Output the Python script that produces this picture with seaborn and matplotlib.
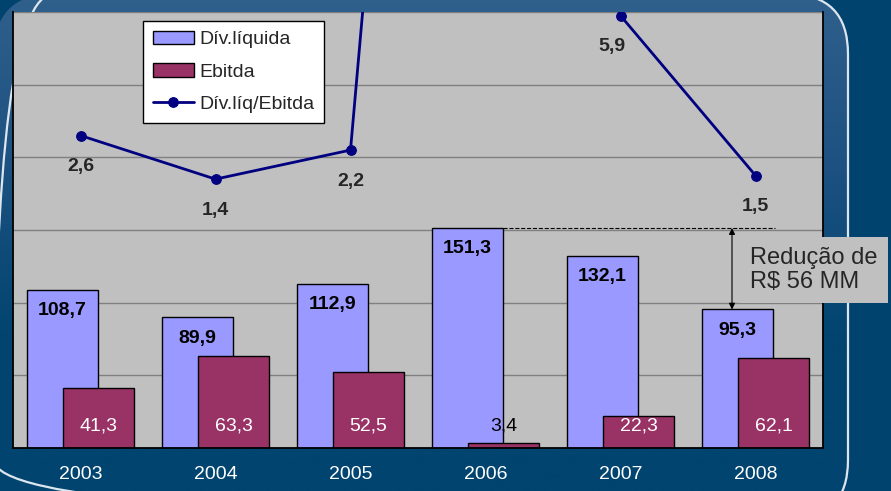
import numpy as np
import pandas as pd
import matplotlib
matplotlib.use('Agg')
import matplotlib.pyplot as plt
from matplotlib.patches import FancyBboxPatch
from matplotlib.colors import LinearSegmentedColormap
from matplotlib.ticker import MultipleLocator
import seaborn as sns

# dados (R$ milhões)
anos = ['2003', '2004', '2005', '2006', '2007', '2008']
div_liquida = [108.7, 89.9, 112.9, 151.3, 132.1, 95.3]
ebitda = [41.3, 63.3, 52.5, 3.4, 22.3, 62.1]
div_ebitda = [2.6, 1.4, 2.2, 44.5, 5.9, 1.5]

serie_nomes = ['Dív.líquida', 'Ebitda', 'Dív.líq/Ebitda']
cores = ['#9999FF', '#993366', '#000080']


def fmt_br(v):
    return f'{v:.1f}'.replace('.', ',')


sns.set_style('white')
plt.rcParams['font.family'] = ['Liberation Sans', 'DejaVu Sans']

fig = plt.figure(figsize=(8.91, 4.91), dpi=100)
fig.patch.set_facecolor('#00436E')

# fundo com moldura arredondada e degradê
bg = fig.add_axes([0, 0, 1, 1], zorder=-1)
bg.axis('off')
grad = np.linspace(0, 1, 256).reshape(-1, 1)
cmap = LinearSegmentedColormap.from_list(
    'fundo', ['#30608C', '#1C5181', '#00446F', '#00446F'])
im = bg.imshow(grad, cmap=cmap, extent=[-6, 848, 520, -6], aspect='auto')
frame = FancyBboxPatch((-6, -6), 854, 526,
                       boxstyle='round,pad=0,rounding_size=60',
                       facecolor='none', edgecolor='#DDE6EE', lw=1.6)
bg.add_patch(frame)
im.set_clip_path(frame)
bg.set_xlim(0, 891)
bg.set_ylim(491, 0)

# barras
ax = fig.add_axes([13 / 891, 43 / 491, 810 / 891, 436 / 491])
df = pd.DataFrame({
    'ano': anos * 2,
    'valor': div_liquida + ebitda,
    'serie': [serie_nomes[0]] * len(anos) + [serie_nomes[1]] * len(anos),
})
sns.barplot(data=df, x='ano', y='valor', hue='serie', hue_order=serie_nomes[:2],
            palette=cores[:2], saturation=1, errorbar=None, width=0.8,
            dodge=True, edgecolor='black', linewidth=1, legend=False, ax=ax)

# barras sobrepostas como no original
largura = 0.52
desloc = 0.133
for k, cont in enumerate(ax.containers):
    off = -desloc if k == 0 else desloc
    for p in cont.patches:
        i = round(p.get_x() + p.get_width() / 2)
        p.set_width(largura)
        p.set_x(i + off - largura / 2)

for i, v in enumerate(div_liquida):
    ax.annotate(fmt_br(v), (i - desloc, v), xytext=(0, -15),
                textcoords='offset points', ha='center', va='center',
                fontsize=14, fontweight='bold', color='black', zorder=5)
for i, v in enumerate(ebitda):
    ax.text(i + desloc, 15, fmt_br(v), ha='center', va='center', fontsize=14,
            color='white' if v > 10 else 'black', zorder=5)

ax.set_facecolor('#C0C0C0')
ax.set_ylim(0, 300)
ax.yaxis.set_major_locator(MultipleLocator(50))
ax.grid(axis='y', color='#808080', lw=1)
ax.set_axisbelow(True)
ax.tick_params(axis='y', length=0, labelleft=False)
ax.set_xlabel('')
ax.set_ylabel('')
for s in ['top', 'right']:
    ax.spines[s].set_visible(False)
for s in ['left', 'bottom']:
    ax.spines[s].set_color('black')
    ax.spines[s].set_linewidth(1.3)

# linha Dív.líq/Ebitda no eixo secundário
ax2 = ax.twinx()
sns.lineplot(x=np.arange(len(anos)), y=div_ebitda, ax=ax2, color=cores[2],
             lw=2.0, marker='o', markersize=7, markeredgecolor=cores[2])
ax2.set_ylim(-6, 6)
ax2.set_yticks([])
for s in ['top', 'left', 'bottom']:
    ax2.spines[s].set_visible(False)
ax2.spines['right'].set_color('black')
ax2.spines['right'].set_linewidth(1.3)
for i, v in enumerate(div_ebitda):
    dx = -6 if i == 4 else 0
    ax2.annotate(fmt_br(v), (i, v), xytext=(dx, -22.5), textcoords='offset points',
                 ha='center', va='center', fontsize=14, fontweight='bold')

ax.set_xlim(-0.5, len(anos) - 0.5)
ax.set_xticks(range(len(anos)))
ax.set_xticklabels(anos)
ax.tick_params(axis='x', which='major', length=0, pad=13, labelsize=14,
               labelcolor='white')
ax.set_xticks(np.arange(-0.5, len(anos), 1), minor=True)
ax.tick_params(axis='x', which='minor', length=6, width=1, color='black',
               direction='out')

# anotação da redução da dívida
x_ini = 3 - desloc + largura / 2
ax.plot([x_ini, 5.144], [div_liquida[3], div_liquida[3]], ls='--',
        color='black', lw=0.8, zorder=4)
ax.annotate('', xy=(4.826, div_liquida[5]), xytext=(4.826, div_liquida[3]),
            arrowprops=dict(arrowstyle='<|-|>', color='black', lw=0.8,
                            mutation_scale=9, shrinkA=0, shrinkB=0), zorder=4)
reducao = div_liquida[3] - div_liquida[5]
ax2.text(4.96, 122.5, f'Redução de\nR$ {reducao:.0f} MM', transform=ax.transData,
         ha='left', va='center', fontsize=17, linespacing=1.1, zorder=10,
         clip_on=False,
         bbox=dict(boxstyle='square,pad=0.42', facecolor='#C0C0C0',
                   edgecolor='none'))

leg = ax2.legend(handles=[ax.containers[0].patches[0], ax.containers[1].patches[0],
                          ax2.lines[0]],
                 labels=serie_nomes, loc='upper left',
                 bbox_to_anchor=(0.1605, 0.979), borderaxespad=0, frameon=True,
                 fancybox=False, edgecolor='black', facecolor='white',
                 framealpha=1, fontsize=14, handlelength=2.1, handletextpad=0.3,
                 labelspacing=0.75, borderpad=0.5)
leg.get_frame().set_linewidth(1)
leg.set_zorder(8)

fig.savefig('out.png', dpi=100, facecolor=fig.get_facecolor())
